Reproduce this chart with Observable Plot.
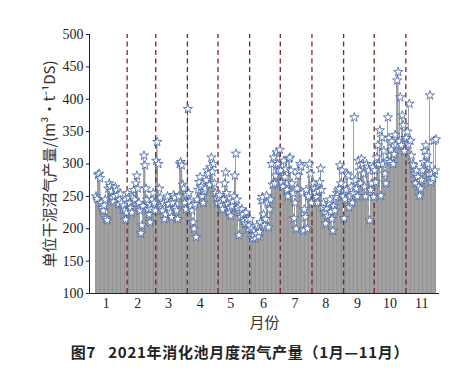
<!DOCTYPE html>
<html>
<head>
<meta charset="utf-8">
<script src="https://cdn.jsdelivr.net/npm/d3@7"></script>
<script src="https://cdn.jsdelivr.net/npm/@observablehq/plot@0.6"></script>
<style>
  body { margin: 0; background: #fff; }
  #caption { width: 476px; text-align: center; font-family: "Noto Sans CJK SC", sans-serif; font-weight: bold; font-size: 15px; line-height: 20px; padding-top: 2px; letter-spacing: 0.7px; color: #222; box-sizing: border-box; padding-left: 4px; }
</style>
</head>
<body>
<div id="chart"></div>
<div id="caption">图7&nbsp;&nbsp;&nbsp;2021年消化池月度沼气产量（1月—11月）</div>
<script>
// Daily biogas production per unit dry sludge (m³/t DS), by month
const jan = [250, 246, 283, 285, 278, 240, 232, 228, 236, 245, 216, 213, 262, 270, 266, 258, 248, 242, 250, 264, 259, 252, 238, 245, 254, 240, 230, 236, 228, 214, 225];
const feb = [255, 248, 240, 232, 225, 248, 260, 245, 270, 282, 262, 240, 228, 193, 205, 235, 313, 298, 262, 245, 230, 222, 210, 230, 245, 255, 240, 228];
const mar = [305, 334, 300, 262, 248, 235, 228, 240, 215, 222, 245, 250, 238, 230, 225, 218, 240, 252, 248, 232, 228, 215, 250, 300, 303, 298, 268, 262, 240, 230, 252];
const apr = [385, 255, 242, 235, 228, 210, 200, 238, 187, 245, 260, 272, 280, 265, 250, 240, 258, 262, 275, 290, 285, 268, 295, 310, 288, 300, 270, 255, 248, 240];
const may = [248, 252, 240, 236, 230, 245, 270, 287, 255, 238, 226, 232, 220, 235, 242, 250, 282, 316, 245, 232, 190, 225, 218, 230, 222, 212, 208, 225, 215, 200, 205];
const jun = [215, 200, 185, 190, 197, 185, 192, 205, 188, 195, 210, 244, 249, 222, 205, 215, 251, 240, 202, 230, 245, 300, 268, 310, 270, 282, 318, 300, 290, 322];
const jul = [290, 272, 265, 305, 280, 292, 260, 250, 308, 310, 290, 270, 255, 216, 240, 200, 262, 282, 290, 300, 296, 255, 197, 230, 218, 260, 200, 250, 300, 285, 240];
const aug = [265, 270, 262, 255, 249, 240, 258, 272, 293, 260, 233, 240, 225, 208, 231, 220, 239, 245, 226, 215, 197, 235, 228, 249, 255, 259, 262, 298, 270, 290, 250];
const sep = [216, 245, 260, 285, 282, 233, 250, 265, 240, 255, 372, 275, 262, 250, 305, 290, 270, 308, 300, 285, 265, 250, 300, 295, 290, 213, 260, 270, 295, 249];
const oct = [290, 272, 310, 329, 300, 352, 251, 341, 300, 320, 285, 270, 305, 372, 340, 303, 322, 335, 300, 315, 345, 330, 429, 442, 335, 403, 329, 375, 360, 320, 340];
const nov = [340, 350, 330, 393, 336, 313, 300, 298, 285, 270, 290, 280, 265, 251, 262, 275, 290, 303, 320, 329, 313, 300, 285, 406, 272, 285, 278, 336, 290, 338];

const monthLabels = ["1", "2", "3", "4", "5", "6", "7", "8", "9", "10", "11"];
const monthTickDays = [11, 42, 72, 103, 133, 165, 196, 226, 257, 289, 320];
const yTicks = [100, 150, 200, 250, 300, 350, 400, 450, 500];

const months = [jan, feb, mar, apr, may, jun, jul, aug, sep, oct, nov];
const data = [];
const boundaries = [];
let day = 0;
months.forEach((m, i) => {
  m.forEach(v => { day += 1; data.push({day, value: v}); });
  if (i < months.length - 1) boundaries.push(day + 0.5);
});

const chart = Plot.plot({
  width: 476,
  height: 340,
  marginTop: 34,
  marginBottom: 47,
  marginLeft: 89,
  marginRight: 37,
  style: {fontFamily: "'Liberation Serif', serif", fontSize: "14px", color: "#222", background: "white"},
  x: {domain: [-5.38, 337.44]},
  y: {domain: [100, 500]},
  marks: [
    Plot.rectY(data, {x1: d => d.day - 0.5, x2: d => d.day + 0.5, y1: () => 100, y2: "value", fill: "#a2a2a2", inset: 0, shapeRendering: "crispEdges"}),
    Plot.ruleX(data.filter((d, i) => i % 4 === 0), {x: "day", y1: () => 100, y2: "value", stroke: "#858585", strokeWidth: 0.6}),
    Plot.ruleX(boundaries, {x: d => d, y1: () => 100, y2: () => 500, stroke: "#7d2424", strokeWidth: 1.3, strokeDasharray: "5,3.5"}),
    Plot.dot(data, {x: "day", y: "value", symbol: "star", r: 2.9, fill: "white", stroke: "#3d61a6", strokeWidth: 0.8}),
    Plot.axisY({ticks: yTicks, tickSize: 3, tickPadding: 3, label: null, fontSize: 14}),
    Plot.axisX({ticks: monthTickDays, tickFormat: (d, i) => monthLabels[i], tickSize: 0, tickPadding: 5, label: null, fontSize: 14}),
    Plot.ruleY([100], {stroke: "#222", strokeWidth: 1}),
    Plot.ruleX([-5.38], {y1: () => 100, y2: () => 500, stroke: "#222", strokeWidth: 1}),
    Plot.text(["单位干泥沼气产量/(m³·t⁻¹DS)"], {frameAnchor: "left", dx: -39, rotate: -90, fontSize: 15, fontFamily: "'Noto Sans CJK SC', sans-serif", fill: "#333", textAnchor: "middle"}),
    Plot.text(["月份"], {frameAnchor: "bottom", dy: 30, fontSize: 15, fontFamily: "'Noto Sans CJK SC', sans-serif", fill: "#333", textAnchor: "middle", lineAnchor: "middle"})
  ]
});
document.getElementById("chart").appendChild(chart);
</script>
</body>
</html>
